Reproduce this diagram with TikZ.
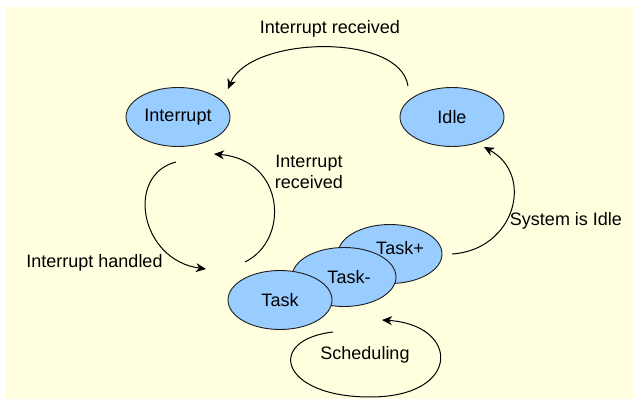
\documentclass[tikz,border=0pt]{standalone}
\usepackage{fontspec}
\setmainfont{Liberation Sans}
\usetikzlibrary{shapes.geometric,arrows.meta}
\definecolor{bgyellow}{RGB}{255,255,224}
\definecolor{stateblue}{RGB}{153,204,255}
\definecolor{outline}{RGB}{30,30,30}
\begin{document}
\begin{tikzpicture}[x=1pt,y=-1pt,
  every node/.style={font=\fontsize{18}{21}\selectfont, text=black},
  state/.style={ellipse, draw=outline, line width=0.9pt, fill=stateblue,
    minimum width=104pt, minimum height=59pt, inner sep=0pt},
  lbl/.style={inner sep=0pt, align=center},
  conn/.style={line width=1pt, draw=black, -{Stealth[length=10pt,width=9pt,inset=3pt]}}]
\useasboundingbox (0,0) rectangle (633,401);
\fill[white] (0,0) rectangle (633,401);
\fill[bgyellow] (6,7) rectangle (633,399);

% states
\node[state] (int) at (178,117) {Interrupt};
\node[state] (idle) at (452,117) {Idle};
\node[state] (taskp) at (390,254) {};
\node[lbl] (taskptxt) at (400,248) {Task+};
\node[state] (taskm) at (344,277) {};
\node[lbl] (taskmtxt) at (349,277) {Task-};
\node[state] (task) at (280,300) {Task};

% connector ends
\coordinate (a1s) at (408,86);
\coordinate (a1e) at (228,89);
\coordinate (a2s) at (176,162);
\coordinate (a2e) at (206,269);
\coordinate (a3s) at (245,262);
\coordinate (a3e) at (214,154);
\coordinate (a4s) at (452,254);
\coordinate (a4e) at (484,147);
\coordinate (a5s) at (333,332);
\coordinate (a5m) at (370,397);
\coordinate (a5e) at (382,320);

% connectors
\draw[conn] (a1s) .. controls (400,32) and (250,36) .. (a1e);
\draw[conn] (a2s) .. controls (125,175) and (140,260) .. (a2e);
\draw[conn] (a3s) .. controls (290,240) and (285,160) .. (a3e);
\draw[conn] (a4s) .. controls (515,250) and (535,175) .. (a4e);
\draw[conn] (a5s) .. controls (265,340) and (280,397) .. (a5m)
                  .. controls (462,397) and (460,325) .. (a5e);

% labels
\node[lbl] (l1) at (330,29) {Interrupt received};
\node[lbl] (l2) at (94.5,263) {Interrupt handled};
\node[lbl] (l3) at (309,172) {Interrupt\\received};
\node[lbl] (l4) at (566,221) {System is Idle};
\node[lbl] (l5) at (365,355) {Scheduling};
\end{tikzpicture}
\end{document}
